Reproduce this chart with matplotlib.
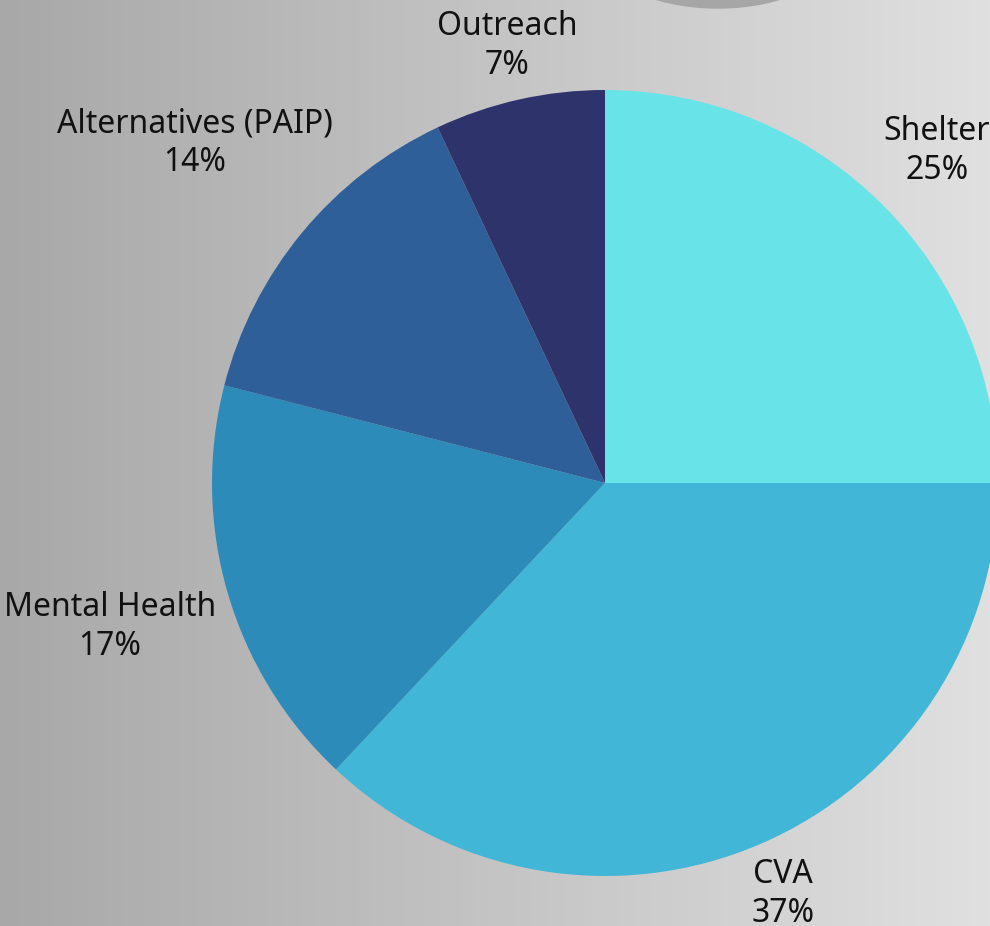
import numpy as np
import matplotlib
matplotlib.use("Agg")
import matplotlib.pyplot as plt
from matplotlib.patches import Ellipse
from matplotlib.colors import LinearSegmentedColormap

categories = ["Shelter", "CVA", "Mental Health", "Alternatives (PAIP)", "Outreach"]
values = [25, 37, 17, 14, 7]
colors = ["#68e4e8", "#41b6d6", "#2d8bba", "#2e5f98", "#2f336b"]

W, H = 990, 926
fig = plt.figure(figsize=(W / 100, H / 100), dpi=100)
ax = fig.add_axes([0, 0, 1, 1])

# background gradient
grad = np.linspace(0, 1, 256)[None, :]
cmap = LinearSegmentedColormap.from_list("bg", ["#a8a8a8", "#c4c4c4", "#e0e0e0"])
ax.imshow(grad, extent=[0, W, 0, H], aspect="auto", cmap=cmap, zorder=0)

# decorative ellipse at top
ax.add_patch(Ellipse((718, H + 55), 245, 126, color="#a6a6a6", zorder=1))

cx, cy, r = 605, H - 483, 393
wedges, _ = ax.pie(values, colors=colors, startangle=90, counterclock=False,
                   center=(cx, cy), radius=r, wedgeprops=dict(linewidth=0),
                   frame=False)
for w in wedges:
    w.set_zorder(2)

label_pos = {
    "Shelter": (937, 151),
    "CVA": (783, 894),
    "Mental Health": (110, 627),
    "Alternatives (PAIP)": (195, 143),
    "Outreach": (507, 46),
}
for cat, val in zip(categories, values):
    x, y = label_pos[cat]
    ax.text(x, H - y, f"{cat}\n{val}%", ha="center", va="center", fontsize=23,
            family="Noto Sans", color="#111111", linespacing=1.22, zorder=3)

ax.set_xlim(0, W)
ax.set_ylim(0, H)
ax.set_aspect("auto")
ax.axis("off")
fig.savefig("out.png", dpi=100)
